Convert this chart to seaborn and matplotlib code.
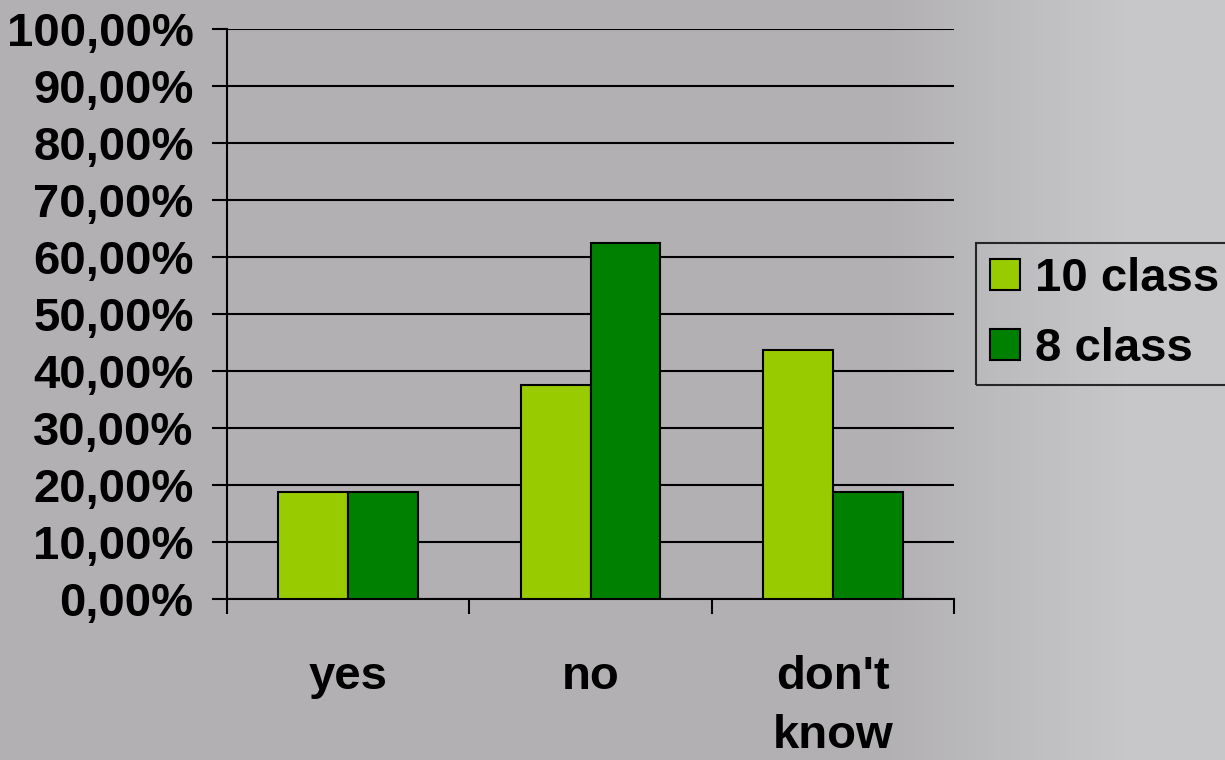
import matplotlib
matplotlib.use("Agg")
import matplotlib.pyplot as plt
import numpy as np
import pandas as pd
import seaborn as sns
from matplotlib.ticker import FuncFormatter, FixedLocator


answers = ["yes", "no", "don't\nknow"]
class_10 = [18.75, 37.5, 43.75]
class_8 = [18.75, 62.5, 18.75]
groups = ["10 class", "8 class"]
colors = {"10 class": "#99cc00", "8 class": "#008000"}


def main():
    sns.set_theme(style="white")
    plt.rcParams["font.family"] = ["Liberation Sans", "DejaVu Sans"]
    plt.rcParams["font.weight"] = "bold"
    plt.rcParams["text.color"] = "black"

    df = pd.DataFrame({
        "answer": answers * 2,
        "share": class_10 + class_8,
        "group": [groups[0]] * len(answers) + [groups[1]] * len(answers),
    })

    bg = "#b2b0b3"
    fig = plt.figure(figsize=(12.25, 7.6), dpi=100, facecolor=bg)

    # soft lighter backdrop on the right side
    back = fig.add_axes([0, 0, 1, 1], zorder=-10)
    grad = np.linspace(0, 1, 256)
    grad = np.clip((grad - 0.72) / 0.2, 0, 1)
    back.imshow(grad[np.newaxis, :], aspect="auto", extent=[0, 1, 0, 1],
                cmap=matplotlib.colors.LinearSegmentedColormap.from_list("bg", [bg, "#c7c7c9"]))
    back.set_axis_off()

    ax = fig.add_axes([0.1853, 0.2118, 0.5935, 0.75])
    ax.patch.set_alpha(0)

    sns.barplot(
        data=df, x="answer", y="share", hue="group", hue_order=groups,
        palette=colors, width=0.575, saturation=1, edgecolor="black",
        linewidth=1.5, ax=ax, legend=False, zorder=3,
    )

    ax.set_ylim(0, 100)
    ax.set_xlim(-0.5, 2.5)
    ax.yaxis.set_major_locator(FixedLocator(np.arange(0, 101, 10)))
    ax.yaxis.set_major_formatter(FuncFormatter(lambda v, _: f"{v:.2f}%".replace(".", ",")))
    ax.yaxis.grid(True, color="black", linewidth=1.5)
    ax.set_axisbelow(True)

    ax.set_xlabel("")
    ax.set_ylabel("")
    for side in ["top", "right"]:
        ax.spines[side].set_visible(False)
    for side in ["left", "bottom"]:
        ax.spines[side].set_color("black")
        ax.spines[side].set_linewidth(1.5)

    ax.tick_params(axis="y", which="major", left=True, length=11, width=1.5,
                   color="black", pad=13, labelsize=34, labelcolor="black")
    ax.tick_params(axis="x", which="major", bottom=False, length=0, pad=40,
                   labelsize=34, labelcolor="black")
    ax.xaxis.set_minor_locator(FixedLocator([-0.5, 0.5, 1.5, 2.5]))
    ax.tick_params(axis="x", which="minor", bottom=True, length=11, width=1.5,
                   color="black", direction="out")
    for lab in ax.get_xticklabels():
        lab.set_multialignment("center")
        lab.set_linespacing(1.45)
        lab.set_verticalalignment("top")
    for lab in ax.get_yticklabels() + ax.get_xticklabels():
        lab.set_fontweight("bold")

    handles = [plt.Rectangle((0, 0), 1, 1, facecolor=colors[g], edgecolor="black", linewidth=1.5)
               for g in groups]
    leg = fig.legend(
        handles, groups, loc="upper left", bbox_to_anchor=(976 / 1225, 1 - 243 / 760),
        frameon=True, fancybox=False, borderpad=0.3, labelspacing=0.55,
        handlelength=0.64, handleheight=0.64, handletextpad=0.3, borderaxespad=0,
        prop={"weight": "bold", "size": 34},
    )
    for t in leg.get_texts():
        t.set_color("black")
    leg.get_frame().set_edgecolor("black")
    leg.get_frame().set_linewidth(1.5)
    leg.get_frame().set_facecolor("none")

    fig.savefig("out.png", dpi=100, facecolor=bg)
    plt.close(fig)


if __name__ == "__main__":
    main()
